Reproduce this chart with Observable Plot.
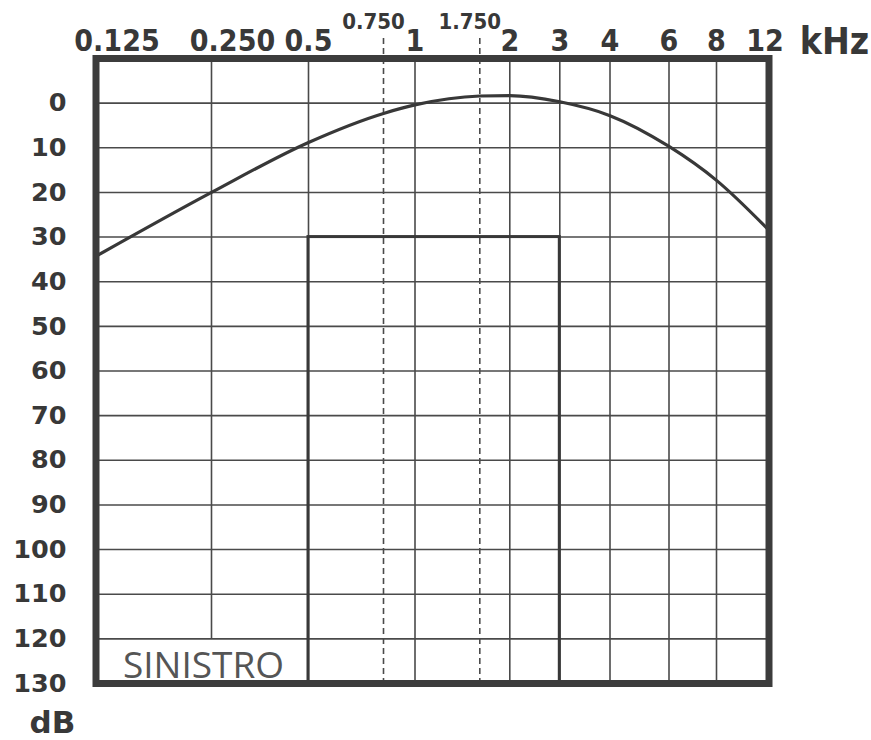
<!DOCTYPE html>
<html><head><meta charset="utf-8">
<script src="https://cdn.jsdelivr.net/npm/d3@7"></script>
<script src="https://cdn.jsdelivr.net/npm/@observablehq/plot@0.6"></script>
<style>
body{margin:0;background:#fff}
#chart svg{display:block}
</style>
</head><body><div id="chart"></div>
<script>
// ---- data ----
const freqs = [0.125, 0.25, 0.5, 0.75, 1, 1.75, 2, 3, 4, 6, 8, 12];
const curveDb = [34.3, 20, 8.8, 2.3, 0.4, -1.6, -1.7, -0.3, 2.8, 9.7, 17.3, 28.5];
const mainTicks = [0.125, 0.25, 0.5, 1, 2, 3, 4, 6, 8, 12];
const mainTickLabels = ["0.125", "0.250", "0.5", "1", "2", "3", "4", "6", "8", "12"];
const midTicks = [0.75, 1.75];
const midTickLabels = ["0.750", "1.750"];
const dbTicks = [0, 10, 20, 30, 40, 50, 60, 70, 80, 90, 100, 110, 120, 130];
const gridFreqs = [0.5, 1, 2, 3, 4, 6, 8];
const shortGridFreqs = [0.25];
const gridDb = [0, 10, 20, 30, 40, 50, 60, 70, 80, 90, 100, 110, 120];
const boxF = [0.5, 3];
const boxDb = [30, 130];
const xUnit = "kHz";
const yUnit = "dB";
const sideLabel = "SINISTRO";

// ---- scale layout (piecewise audiogram frequency axis) ----
const xRange = [95.5, 211, 308, 383, 414.5, 479.3, 509.3, 559.3, 609.5, 668.5, 716, 768.5];

const curveData = freqs.map((f, i) => ({f, db: curveDb[i]}));
const ink = "#383838";
const gridInk = "#4a4a4a";
const tickLabel = d => mainTickLabels[mainTicks.indexOf(d)];

const chart = Plot.plot({
  width: 871,
  height: 740,
  marginLeft: 95.5,
  marginRight: 871 - 768.5,
  marginTop: 58,
  marginBottom: 57,
  style: {fontFamily: "'DejaVu Sans', sans-serif", color: ink, background: "#fff", overflow: "visible"},
  x: {type: "linear", domain: freqs, range: xRange, axis: null, label: null},
  y: {domain: [-10, 130], reverse: true, axis: null, label: null},
  marks: [
    Plot.ruleY(gridDb, {stroke: gridInk, strokeWidth: 1.6}),
    Plot.ruleX(gridFreqs, {stroke: gridInk, strokeWidth: 1.6}),
    Plot.ruleX(shortGridFreqs, {x: d => d, y1: () => -10, y2: () => 120, stroke: gridInk, strokeWidth: 1.6}),
    Plot.ruleX(midTicks, {stroke: gridInk, strokeWidth: 1.6, strokeDasharray: "6,4", insetTop: -20}),
    Plot.rect([{x1: boxF[0], x2: boxF[1], y1: boxDb[0], y2: boxDb[1]}], {x1: "x1", x2: "x2", y1: "y1", y2: "y2", fill: "none", stroke: ink, strokeWidth: 3}),
    Plot.line(curveData, {x: "f", y: "db", curve: "monotone-x", stroke: ink, strokeWidth: 3.2}),
    Plot.frame({stroke: "#3c3c3c", strokeWidth: 7}),
    // axes
    Plot.axisY(dbTicks, {anchor: "left", tickSize: 0, tickPadding: 29.5, fontSize: 25.5, fontWeight: "bold", label: null, tickFormat: d => String(d)}),
    Plot.axisX(mainTicks.slice(0, 2), {anchor: "top", tickSize: 0, tickPadding: 8, dx: 21, fontSize: 30, fontWeight: "bold", label: null, tickFormat: tickLabel}),
    Plot.axisX(mainTicks.slice(2, -1), {anchor: "top", tickSize: 0, tickPadding: 8, fontSize: 30, fontWeight: "bold", label: null, tickFormat: tickLabel}),
    Plot.axisX(mainTicks.slice(-1), {anchor: "top", tickSize: 0, tickPadding: 8, dx: -4, fontSize: 30, fontWeight: "bold", label: null, tickFormat: tickLabel}),
    Plot.axisX(midTicks, {anchor: "top", tickSize: 0, tickPadding: 30, dx: -10, fontSize: 22, fontWeight: "bold", label: null,
      tickFormat: d => midTickLabels[midTicks.indexOf(d)]}),
    Plot.text([xUnit], {frameAnchor: "top-right", textAnchor: "middle", dx: 65.5, dy: -5, lineAnchor: "bottom", fontSize: 37, fontWeight: "bold", fill: ink}),
    Plot.text([yUnit], {frameAnchor: "bottom-left", textAnchor: "middle", dx: -43.5, dy: 49, lineAnchor: "bottom", fontSize: 31, fontWeight: "bold", fill: ink}),
    Plot.text([sideLabel], {frameAnchor: "bottom-left", textAnchor: "middle", dx: 107.5, dy: -6, lineAnchor: "bottom", fontSize: 37, fontFamily: "'Open Sans', sans-serif", fill: "#555"})
  ]
});
d3.select(chart).selectAll('g[aria-label="x-axis tick label"] text')
  .style("font-stretch", "condensed");
d3.select(chart).selectAll('g[aria-label="text"] text')
  .filter(function () { return this.textContent === xUnit; })
  .style("font-stretch", "condensed");
document.getElementById("chart").appendChild(chart);
</script>
</body></html>
